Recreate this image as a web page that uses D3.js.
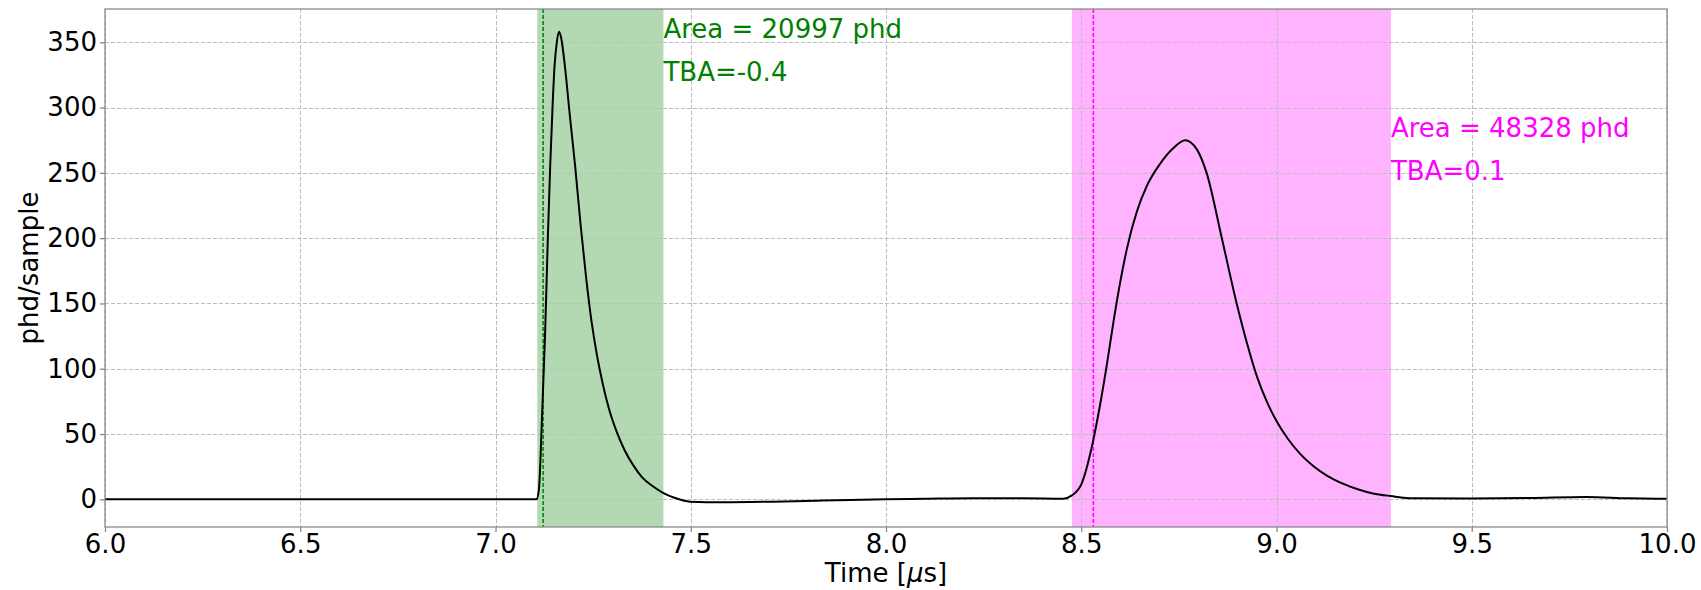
<!DOCTYPE html>
<html>
<head>
<meta charset="utf-8">
<script src="https://cdn.jsdelivr.net/npm/d3@7"></script>
<style>
  html, body { margin: 0; padding: 0; background: #fff; }
  svg { display: block; font-family: "DejaVu Sans", sans-serif; }
</style>
</head>
<body>
<svg id="chart" width="1701" height="590"></svg>
<script>
// ---- data ----
const times = [6.0, 6.5, 7.0, 7.105, 7.111, 7.120, 7.127, 7.134, 7.140, 7.146, 7.151, 7.157, 7.163, 7.169, 7.178, 7.190, 7.204, 7.218, 7.232, 7.246, 7.260, 7.275, 7.290, 7.310, 7.330, 7.353, 7.375, 7.403, 7.429, 7.460, 7.498, 7.583, 7.711, 7.839, 8.0, 8.1, 8.223, 8.351, 8.454, 8.476, 8.501, 8.527, 8.548, 8.565, 8.582, 8.599, 8.617, 8.642, 8.668, 8.702, 8.736, 8.766, 8.796, 8.821, 8.860, 8.898, 8.925, 8.950, 8.975, 9.000, 9.030, 9.060, 9.094, 9.130, 9.170, 9.210, 9.247, 9.293, 9.350, 9.500, 9.650, 9.794, 9.900, 10.0];
const values = [0, 0, 0, 0, 7, 70, 127, 200, 255, 300, 331, 350, 358, 352, 331, 295, 255, 210, 170, 136, 110, 88, 70, 52, 38, 26, 17, 10, 5, 1, -1.8, -2.3, -1.8, -1, 0, 0.4, 0.8, 0.8, 0.5, 3, 12, 40, 72, 102, 135, 165, 192, 220, 240, 257, 269, 275, 268, 250, 200, 150, 119, 94, 75, 60, 46, 35, 25.5, 18, 12, 7.5, 4.5, 2.5, 0.8, 0.6, 1, 1.8, 0.8, 0.4];

const spanStart = [7.107, 8.476];
const spanEnd = [7.430, 9.293];
const markerTimes = [7.122, 8.531];
const spanColors = ["green", "magenta"];
const areaLabels = ["Area = 20997 phd", "Area = 48328 phd"];
const tbaLabels = ["TBA=-0.4", "TBA=0.1"];
const areaLabelY = [353.5, 277.5];
const tbaLabelY = [320, 244.5];

const xTicks = [6.0, 6.5, 7.0, 7.5, 8.0, 8.5, 9.0, 9.5, 10.0];
const yTicks = [0, 50, 100, 150, 200, 250, 300, 350];
const xDomain = [6, 10];
const yDomain = [-21.2, 375.5];

// ---- layout ----
const svg = d3.select("#chart");
const L = 105, R = 1667, T = 9, B = 527;
const FS = 26;
const x = d3.scaleLinear().domain(xDomain).range([L, R]);
const y = d3.scaleLinear().domain(yDomain).range([B, T]);

const fillCol = { green: "rgb(179,217,179)", magenta: "rgb(255,179,255)" };
const lineCol = { green: "#008000", magenta: "#ff00ff" };

// spans
svg.append("g").selectAll("rect").data(spanStart).join("rect")
  .attr("x", (d) => x(d))
  .attr("y", T)
  .attr("width", (d, i) => x(spanEnd[i]) - x(d))
  .attr("height", B - T)
  .attr("fill", (d, i) => fillCol[spanColors[i]]);

// grid
const grid = svg.append("g").attr("stroke", "#bdbdbd").attr("stroke-width", 1).attr("stroke-dasharray", "4,2");
grid.selectAll("line.gx").data(xTicks).join("line")
  .attr("x1", (d) => Math.round(x(d)) + 0.5).attr("x2", (d) => Math.round(x(d)) + 0.5)
  .attr("y1", T).attr("y2", B);
grid.selectAll("line.gy").data(yTicks).join("line")
  .attr("y1", (d) => Math.round(y(d)) + 0.5).attr("y2", (d) => Math.round(y(d)) + 0.5)
  .attr("x1", L).attr("x2", R);

// marker dashed lines
svg.append("g").selectAll("line").data(markerTimes).join("line")
  .attr("x1", (d) => x(d)).attr("x2", (d) => x(d))
  .attr("y1", T).attr("y2", B)
  .attr("stroke", (d, i) => lineCol[spanColors[i]])
  .attr("stroke-width", 1.5)
  .attr("stroke-dasharray", "4,2");

// waveform
const pts = times.map((t, i) => [t, values[i]]);
const line = d3.line().x((d) => x(d[0])).y((d) => y(d[1])).curve(d3.curveMonotoneX);
svg.append("path").datum(pts)
  .attr("d", line)
  .attr("fill", "none")
  .attr("stroke", "#000")
  .attr("stroke-width", 2)
  .attr("stroke-linejoin", "round");

// annotations
const ann = svg.append("g").attr("font-size", FS);
spanEnd.forEach((e, i) => {
  ann.append("text").attr("x", x(e)).attr("y", y(areaLabelY[i]))
    .attr("fill", lineCol[spanColors[i]]).text(areaLabels[i]);
  ann.append("text").attr("x", x(e)).attr("y", y(tbaLabelY[i]))
    .attr("fill", lineCol[spanColors[i]]).text(tbaLabels[i]);
});

// frame
svg.append("rect").attr("x", L).attr("y", T).attr("width", R - L).attr("height", B - T)
  .attr("fill", "none").attr("stroke", "#8a8a8a").attr("stroke-width", 1.3);

// axes
const xAxis = d3.axisBottom(x).tickValues(xTicks).tickFormat(d3.format(".1f")).tickSize(5).tickPadding(3);
const yAxis = d3.axisLeft(y).tickValues(yTicks).tickFormat(d3.format("d")).tickSize(5).tickPadding(3);
const gx = svg.append("g").attr("transform", `translate(0,${B})`).call(xAxis);
const gy = svg.append("g").attr("transform", `translate(${L},0)`).call(yAxis);
[gx, gy].forEach((g) => {
  g.select(".domain").remove();
  g.selectAll(".tick line").attr("stroke", "#8a8a8a").attr("stroke-width", 1.3);
  g.selectAll(".tick text").attr("font-size", FS).attr("fill", "#000").attr("font-family", "DejaVu Sans");
});

// axis labels
const xl = svg.append("text").attr("x", (L + R) / 2).attr("y", 582)
  .attr("text-anchor", "middle").attr("font-size", FS).attr("fill", "#000");
xl.append("tspan").text("Time [");
xl.append("tspan").attr("font-style", "italic").text("μ");
xl.append("tspan").text("s]");

svg.append("text").attr("transform", `translate(38,${(T + B) / 2}) rotate(-90)`)
  .attr("text-anchor", "middle").attr("font-size", FS).attr("fill", "#000").text("phd/sample");
</script>
</body>
</html>
